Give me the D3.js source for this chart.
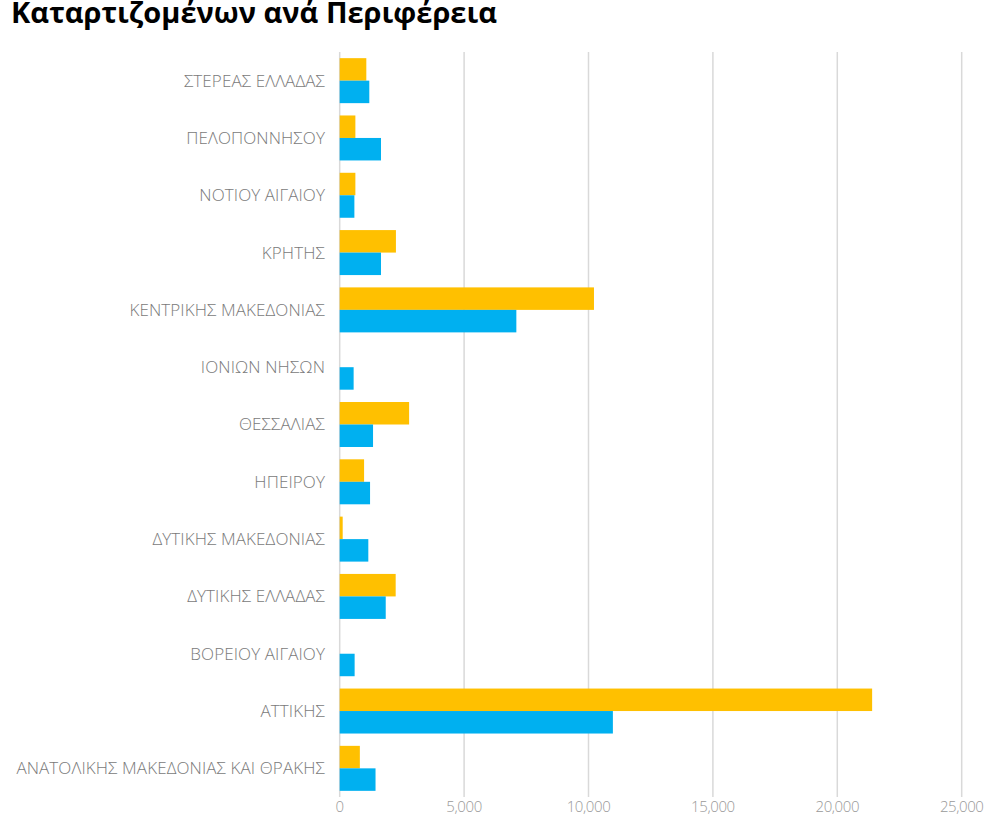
<!DOCTYPE html>
<html>
<head>
<meta charset="utf-8">
<script src="https://cdn.jsdelivr.net/npm/d3@7"></script>
<style>
  html, body { margin: 0; padding: 0; background: #fff; overflow: hidden; }
  svg { display: block; }
</style>
</head>
<body>
<svg id="chart" width="984" height="817"></svg>
<script>
const title = "Καταρτιζομένων ανά Περιφέρεια";
const categories = [
  "ΣΤΕΡΕΑΣ ΕΛΛΑΔΑΣ",
  "ΠΕΛΟΠΟΝΝΗΣΟΥ",
  "ΝΟΤΙΟΥ ΑΙΓΑΙΟΥ",
  "ΚΡΗΤΗΣ",
  "ΚΕΝΤΡΙΚΗΣ ΜΑΚΕΔΟΝΙΑΣ",
  "ΙΟΝΙΩΝ ΝΗΣΩΝ",
  "ΘΕΣΣΑΛΙΑΣ",
  "ΗΠΕΙΡΟΥ",
  "ΔΥΤΙΚΗΣ ΜΑΚΕΔΟΝΙΑΣ",
  "ΔΥΤΙΚΗΣ ΕΛΛΑΔΑΣ",
  "ΒΟΡΕΙΟΥ ΑΙΓΑΙΟΥ",
  "ΑΤΤΙΚΗΣ",
  "ΑΝΑΤΟΛΙΚΗΣ ΜΑΚΕΔΟΝΙΑΣ ΚΑΙ ΘΡΑΚΗΣ"
];
const seriesYellow = [1070, 630, 630, 2260, 10220, 0, 2790, 980, 120, 2250, 0, 21400, 810];
const seriesBlue   = [1190, 1660, 590, 1660, 7100, 560, 1340, 1220, 1150, 1850, 600, 10980, 1440];
const xTicks = [0, 5000, 10000, 15000, 20000, 25000];

const svg = d3.select("#chart");
const x = d3.scaleLinear().domain([0, 25000]).range([339.7, 961.7]);
const y = d3.scaleBand().domain(categories).range([52, 797]).paddingInner(0.215).paddingOuter(0.1075);
const sub = d3.scaleBand().domain(["yellow", "blue"]).range([0, y.bandwidth()]);
const colors = { yellow: "#FFC000", blue: "#00B0F0" };

// gridlines
svg.append("g").selectAll("line").data(xTicks).join("line")
  .attr("x1", d => x(d)).attr("x2", d => x(d))
  .attr("y1", 52).attr("y2", 797)
  .attr("stroke", "#d9d9d9").attr("stroke-width", 1.5);

// x tick labels
const fmt = d3.format(",");
svg.append("g").selectAll("text").data(xTicks).join("text")
  .attr("x", d => x(d)).attr("y", 812)
  .attr("text-anchor", "middle")
  .attr("font-family", "'Open Sans', sans-serif")
  .attr("font-weight", 300)
  .attr("font-size", 15)
  .attr("letter-spacing", -0.4)
  .attr("fill", "#999")
  .text(d => fmt(d));

// bars
const rows = categories.map((c, i) => ({ c, yellow: seriesYellow[i], blue: seriesBlue[i] }));
const groups = svg.append("g").selectAll("g").data(rows).join("g")
  .attr("transform", d => `translate(0,${y(d.c)})`);
groups.selectAll("rect").data(d => ["yellow", "blue"].map(k => ({ k, v: d[k] }))).join("rect")
  .attr("x", x(0))
  .attr("y", d => sub(d.k))
  .attr("width", d => x(d.v) - x(0))
  .attr("height", sub.bandwidth())
  .attr("fill", d => colors[d.k]);

// category labels
svg.append("g").selectAll("text").data(categories).join("text")
  .attr("x", 325)
  .attr("y", d => y(d) + y.bandwidth() / 2)
  .attr("dy", "0.35em")
  .attr("text-anchor", "end")
  .attr("font-family", "'Open Sans', sans-serif")
  .attr("font-weight", 300)
  .attr("font-size", 17)
  .attr("letter-spacing", 0.1)
  .attr("fill", "#7a7a7a")
  .text(d => d);

// title
svg.append("text")
  .attr("x", 497).attr("y", 23)
  .attr("text-anchor", "end")
  .attr("font-family", "'Open Sans', sans-serif")
  .attr("font-weight", 700)
  .attr("font-size", 29)
  .attr("fill", "#000")
  .text(title);
</script>
</body>
</html>
